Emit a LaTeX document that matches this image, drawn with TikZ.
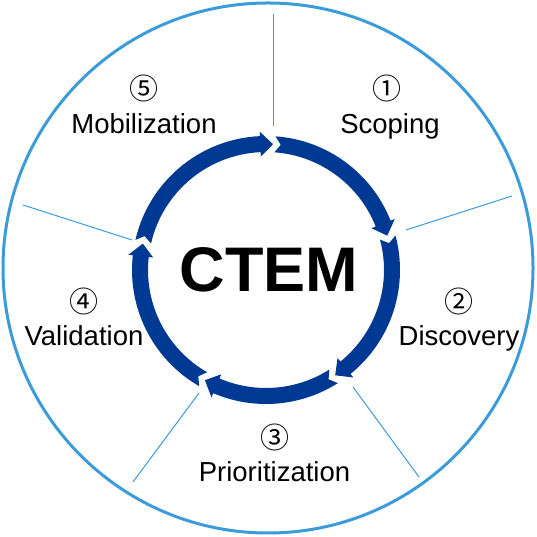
\documentclass[tikz,border=0pt]{standalone}
\usepackage{fontspec}
\setmainfont{Liberation Sans}
\newfontfamily\circfont{Noto Sans CJK JP}
\usetikzlibrary{calc}
\definecolor{ringblue}{RGB}{0,57,148}
\definecolor{lineblue}{RGB}{60,155,217}
\newcommand{\ctemseg}[2]{%
  \pgfmathsetmacro\segS{#1-0.9}%
  \pgfmathsetmacro\segN{#1-0.9-2.6}%
  \pgfmathsetmacro\segB{#2+5.8}%
  \fill[ringblue] (\segS:134pt) arc[start angle=\segS, end angle=\segB, radius=134pt]
    -- (\segB:138.5pt) -- (#2:126pt) -- (\segB:113.5pt) -- (\segB:118pt)
    arc[start angle=\segB, end angle=\segS, radius=118pt] -- (\segN:126pt) -- cycle;%
}
\tikzset{
  lbl/.style={font=\fontsize{27.5}{32}\selectfont, inner sep=0pt, anchor=base},
  num/.style={font=\circfont\fontsize{29}{34}\selectfont, inner sep=0pt, anchor=center},
  spoke/.style={draw=lineblue, line width=1pt}
}
\begin{document}
\begin{tikzpicture}[x=1pt,y=1pt]
\useasboundingbox (0,0) rectangle (537,537);
% outer circle
\draw[lineblue, line width=3pt] (268,269) circle[radius=265pt];
% spokes
\coordinate (t1) at (273,522.6); \coordinate (t2) at (273,411);
\coordinate (u1) at (406,307); \coordinate (u2) at (512,341);
\coordinate (r1) at (353,150); \coordinate (r2) at (419,60);
\coordinate (l1) at (199,144); \coordinate (l2) at (133,55);
\coordinate (v1) at (132,297); \coordinate (v2) at (23,332);
\draw[spoke] (t1) -- (t2);
\draw[spoke] (u1) -- (u2);
\draw[spoke] (r1) -- (r2);
\draw[spoke] (l1) -- (l2);
\draw[spoke] (v1) -- (v2);
% ring of arrows
\coordinate (ctr) at (266,267);
\begin{scope}[shift={(ctr)}]
\ctemseg{167.9}{86.8}
\ctemseg{86.8}{15.8}
\ctemseg{15.8}{-56.7}
\ctemseg{-56.7}{-119.0}
\ctemseg{-119.0}{-192.1}
\end{scope}
% center title
\node[font=\bfseries\fontsize{63}{70}\selectfont, inner sep=0pt] (title) at (269,267) {CTEM};
% labels
\node[num] (n1) at (387,448.5) {①};
\node[lbl] (s1) at (390,403) {Scoping};
\node[num] (n5) at (144,448.5) {⑤};
\node[lbl] (s5) at (144,403) {Mobilization};
\node[num] (n2) at (459,236) {②};
\node[lbl] (s2) at (459,191) {Discovery};
\node[num] (n4) at (84,236) {④};
\node[lbl] (s4) at (84,191) {Validation};
\node[num] (n3) at (274.5,99.5) {③};
\node[lbl] (s3) at (274.5,55) {Prioritization};
\end{tikzpicture}
\end{document}
